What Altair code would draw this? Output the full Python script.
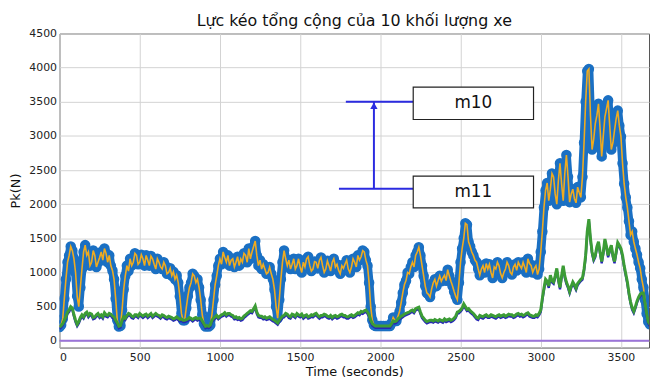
import altair as alt
import pandas as pd

TITLE = "Lực kéo tổng cộng của 10 khối lượng xe"
X_TITLE = "Time (seconds)"
Y_TITLE = "Pk(N)"
X_TICKS = [0, 500, 1000, 1500, 2000, 2500, 3000, 3500]
Y_TICKS = [0, 500, 1000, 1500, 2000, 2500, 3000, 3500, 4000, 4500]

# sample times (s), one every 10 s
TIME = list(range(0, 3681, 10))

# upper series (m10)
P_M10 = [
    # 0 - 490
    200, 230, 320, 620, 900, 1150, 1250, 1380, 1320, 1200, 1000, 650, 500, 780, 1050, 1300, 1400, 1250, 1300, 1100,
    1150, 1320, 1250, 1080, 1150, 1220, 1300, 1180, 1350, 1280, 1150, 1250, 1100, 1030, 900, 620, 300, 210, 220, 450,
    750, 950, 1100, 1020, 1200, 1100, 1150, 1280, 1250, 1120,
    # 500 - 990
    1150, 1260, 1200, 1100, 1250, 1180, 1100, 1240, 1200, 1120, 1050, 1200, 1150, 1080, 1050, 1150, 1100, 980, 1000, 1060,
    950, 1010, 900, 960, 850, 650, 400, 300, 300, 480, 650, 780, 850, 980, 950, 850, 900, 780, 600, 380,
    250, 210, 220, 210, 230, 380, 600, 820, 950, 1100,
    # 1000 - 1490
    1200, 1120, 1300, 1220, 1150, 1250, 1100, 1180, 1200, 1080, 1150, 1230, 1100, 1200, 1150, 1280, 1250, 1150, 1350, 1200,
    1300, 1380, 1460, 1250, 1100, 1180, 1050, 1120, 1050, 980, 1000, 1080, 980, 900, 750, 500, 330, 600, 900, 1150,
    1320, 1200, 1100, 1180, 1050, 1120, 1200, 1050, 1100, 1200,
    # 1500 - 1990
    1080, 1000, 1150, 1080, 1200, 1230, 1100, 1020, 1050, 1160, 1150, 1060, 1175, 1220, 1100, 1000, 1050, 1170, 1100, 1020,
    1150, 1200, 1080, 1120, 1030, 980, 1100, 1060, 1125, 1180, 1050, 1000, 1080, 1200, 1150, 1080, 1250, 1180, 1230, 1320,
    1300, 1180, 1100, 850, 500, 300, 230, 215, 215, 215,
    # 2000 - 2490
    215, 215, 215, 215, 215, 215, 215, 260, 340, 300, 290, 360, 430, 560, 700, 820, 880, 1000, 980, 1080,
    1150, 1080, 1250, 1300, 1370, 1250, 1100, 950, 800, 700, 680, 640, 760, 850, 900, 800, 880, 950, 870, 920,
    960, 880, 1040, 950, 870, 800, 720, 650, 600, 850,
    # 2500 - 2990
    1150, 1350, 1500, 1720, 1700, 1450, 1380, 1300, 1250, 1180, 1150, 1050, 960, 1050, 1100, 1000, 1130, 1050, 1120, 1000,
    920, 1080, 1050, 1150, 1100, 980, 920, 1000, 1050, 1150, 1100, 1000, 970, 1080, 1120, 1030, 1150, 1100, 1060, 1150,
    1080, 1000, 1200, 1130, 1100, 1000, 1060, 1100, 970, 1050,
    # 3000 - 3490
    1300, 1600, 1950, 2200, 2310, 2050, 2220, 2450, 2400, 2150, 2000, 2350, 2600, 2300, 2050, 2450, 2720, 2400, 2030, 2150,
    2220, 2080, 2020, 2250, 2170, 2100, 2400, 2900, 3500, 3950, 3980, 3300, 2800, 2950, 3180, 3300, 3470, 3100, 2700, 3000,
    3280, 3400, 3520, 3150, 2800, 2900, 3080, 3250, 3370, 3150,
    # 3500 - 3680
    2990, 2600, 2300, 2100, 1950, 1750, 1550, 1600, 1450, 1350, 1260, 1150, 1060, 900, 780, 600, 400, 280, 240,
]

# lower series (m11)
P_M11 = [
    # 0 - 490
    200, 220, 250, 300, 350, 420, 450, 500, 480, 380, 300, 240, 280, 340, 380, 350, 400, 420, 370, 400,
    390, 340, 350, 380, 400, 360, 380, 350, 410, 380, 370, 400, 390, 360, 350, 300, 260, 210, 220, 300,
    350, 330, 370, 400, 390, 360, 350, 380, 380, 360,
    # 500 - 990
    400, 380, 360, 380, 390, 360, 380, 400, 360, 380, 400, 380, 370, 350, 380, 370, 350, 340, 360, 350,
    340, 320, 330, 350, 330, 310, 320, 300, 300, 310, 320, 340, 330, 310, 330, 340, 320, 330, 330, 290,
    250, 210, 220, 210, 230, 300, 330, 350, 370, 340,
    # 1000 - 1490
    360, 380, 390, 410, 380, 400, 400, 380, 370, 340, 350, 330, 340, 320, 330, 360, 380, 400, 420, 440,
    430, 470, 510, 420, 370, 360, 360, 340, 350, 330, 340, 350, 330, 310, 300, 280, 260, 300, 330, 360,
    370, 400, 390, 360, 350, 390, 380, 360, 400, 380,
    # 1500 - 1990
    370, 390, 350, 370, 380, 350, 360, 380, 370, 390, 400, 370, 350, 370, 370, 390, 380, 360, 350, 370,
    340, 360, 370, 350, 360, 380, 390, 370, 370, 350, 350, 370, 380, 360, 370, 390, 410, 400, 430, 420,
    440, 450, 420, 380, 300, 250, 230, 215, 215, 215,
    # 2000 - 2490
    215, 215, 215, 215, 215, 215, 215, 250, 290, 280, 290, 320, 340, 360, 370, 390, 400, 410, 420, 440,
    450, 430, 470, 480, 490, 420, 360, 330, 300, 280, 290, 300, 300, 290, 310, 300, 290, 310, 300, 290,
    320, 300, 310, 320, 300, 310, 330, 360, 420, 430,
    # 2500 - 2990
    450, 480, 540, 500, 460, 470, 440, 420, 400, 370, 340, 330, 370, 360, 350, 370, 380, 360, 360, 380,
    370, 360, 350, 370, 380, 360, 370, 380, 360, 370, 390, 380, 380, 360, 370, 390, 400, 380, 390, 370,
    380, 400, 410, 380, 370, 360, 360, 380, 370, 400,
    # 3000 - 3490
    450, 620, 770, 900, 870, 800, 960, 880, 860, 950, 1060, 900, 780, 950, 1100, 950, 860, 800, 720, 800,
    860, 820, 770, 840, 870, 900, 920, 1050, 1250, 1600, 1780, 1500, 1300, 1200, 1250, 1380, 1450, 1300, 1160, 1300,
    1490, 1380, 1250, 1330, 1400, 1250, 1160, 1300, 1440, 1400,
    # 3500 - 3680
    1350, 1250, 1100, 980, 860, 700, 570, 480, 430, 500, 580, 640, 680, 700, 700, 550, 400, 280, 240,
]

assert len(P_M10) == len(TIME) and len(P_M11) == len(TIME)

# annotation (data units): labels, level lines, boxes
ANN_LABELS = ["m10", "m11"]
ANN_LEVELS = [3500, 2225]
ANN_LINE_START = [1785, 1742]
ANN_BOX_X = [2205, 2955]
ANN_BOX_Y = [[3240, 3715], [1946, 2410]]
ARROW_T = 1960

FONT = "DejaVu Sans"

series = pd.DataFrame({"t": TIME, "v": P_M10})
series_low = pd.DataFrame({"t": TIME, "v": P_M11})

xs = alt.Scale(domain=[0, 3675], nice=False, zero=False)
ys = alt.Scale(domain=[-100, 4500], nice=False, zero=False)
xaxis = alt.Axis(values=X_TICKS, title=X_TITLE, grid=True, ticks=False, domain=False,
                 labelPadding=4, titlePadding=3, format="d")
yaxis = alt.Axis(values=Y_TICKS, title=Y_TITLE, grid=True, ticks=False, domain=False,
                 labelPadding=3, titlePadding=6, format="d")


def X(field="t"):
    return alt.X(f"{field}:Q", scale=xs, axis=xaxis)


def Y(field="v"):
    return alt.Y(f"{field}:Q", scale=ys, axis=yaxis)


BLUE = "#1b70c3"

zero = alt.Chart(pd.DataFrame({"v": [0]})).mark_rule(color="#9b74d9", strokeWidth=2).encode(y=Y())

band = alt.Chart(series).mark_line(color=BLUE, strokeWidth=9, strokeJoin="round", strokeCap="round",
                                   clip=True).encode(x=X(), y=Y())

markers = alt.Chart(series).mark_point(
    shape="circle", filled=False, size=75, strokeWidth=2, color=BLUE, opacity=1, clip=True
).encode(x=X(), y=Y())

orange = alt.Chart(series).mark_line(color="#f0ab1f", strokeWidth=1.6, clip=True).encode(x=X(), y=Y())

darkblue = alt.Chart(series_low).mark_line(color="#2626b8", strokeWidth=2.4, yOffset=1.8, clip=True).encode(x=X(), y=Y())
green = alt.Chart(series_low).mark_line(color="#3c9c36", strokeWidth=3, clip=True).encode(x=X(), y=Y())

ann = pd.DataFrame({
    "label": ANN_LABELS,
    "level": ANN_LEVELS,
    "start": ANN_LINE_START,
    "bx1": [ANN_BOX_X[0]] * 2,
    "bx2": [ANN_BOX_X[1]] * 2,
    "by1": [b[0] for b in ANN_BOX_Y],
    "by2": [b[1] for b in ANN_BOX_Y],
})
ann["bxm"] = (ann["bx1"] + ann["bx2"]) / 2
ann["bym"] = (ann["by1"] + ann["by2"]) / 2

level_lines = alt.Chart(ann).mark_rule(color="#2b2be0", strokeWidth=2).encode(
    x=X("start"), x2="bx1:Q", y=Y("level"))

arrow_df = pd.DataFrame({"t": [ARROW_T], "v": [ANN_LEVELS[1]], "v2": [ANN_LEVELS[0]]})
arrow = alt.Chart(arrow_df).mark_rule(color="#2b2be0", strokeWidth=2).encode(
    x=X(), y=Y(), y2="v2:Q")
head = alt.Chart(arrow_df).mark_point(shape="triangle-up", filled=True, size=55, color="#2b2be0",
                                      opacity=1, yOffset=4).encode(x=X(), y=Y("v2"))

boxes = alt.Chart(ann).mark_rect(fill="white", stroke="#222222", strokeWidth=1.2).encode(
    x=X("bx1"), x2="bx2:Q", y=Y("by1"), y2="by2:Q")
texts = alt.Chart(ann).mark_text(font=FONT, fontSize=17, color="#111111").encode(
    x=X("bxm"), y=Y("bym"), text="label:N")

chart = alt.layer(
    zero, band, markers, orange, darkblue, green, level_lines, arrow, head, boxes, texts
).properties(
    width=595,
    height=317,
    padding={"left": 52, "top": 24, "right": 2, "bottom": 29},
    autosize=alt.AutoSizeParams(type="none"),
    background="white",
    title=alt.TitleParams(TITLE, font=FONT, fontSize=16, fontWeight="normal", color="#111111",
                          anchor="middle", frame="group", offset=5, dy=6),
).configure_view(
    stroke="#555555", strokeWidth=1
).configure_axis(
    labelFont=FONT, labelFontSize=11, labelColor="#222222",
    titleFont=FONT, titleFontSize=13, titleFontWeight="normal", titleColor="#111111",
    gridColor="#d2d2d2", gridWidth=1,
)

chart.save("out.html", embed_options={"renderer": "svg", "actions": False})
